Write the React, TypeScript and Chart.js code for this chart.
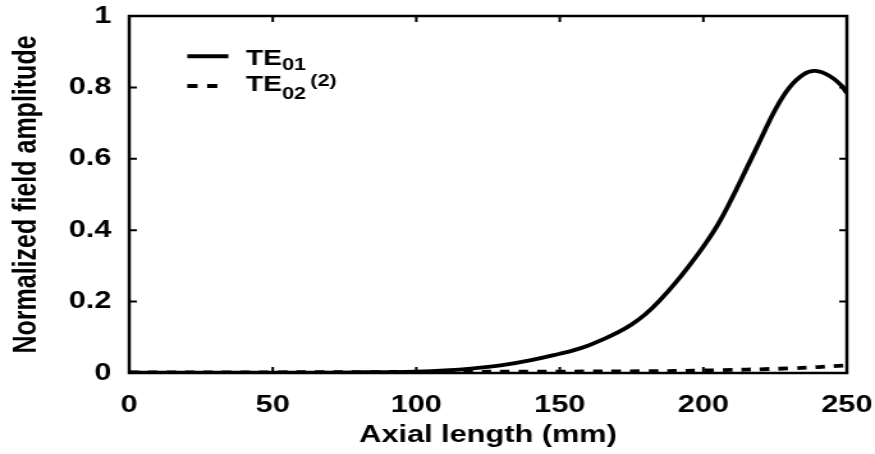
import { useEffect, useRef } from "react";
import { Chart, registerables } from "chart.js";

Chart.register(...registerables);

// Axial positions (mm) and normalized amplitude of the TE01 mode
const axialLength = [0, 50, 80, 100, 110, 120, 130, 140, 150, 155, 160, 165, 170, 175, 180, 185, 190, 195, 200, 205, 210, 215, 220, 225, 230, 235, 239, 244, 248, 250];
const te01Amplitude = [0.001, 0.001, 0.002, 0.004, 0.007, 0.013, 0.022, 0.036, 0.054, 0.064, 0.077, 0.094, 0.113, 0.136, 0.166, 0.205, 0.25, 0.3, 0.354, 0.415, 0.49, 0.572, 0.655, 0.737, 0.8, 0.837, 0.846, 0.832, 0.806, 0.784];

// Axial positions (mm) and normalized amplitude of the TE02 mode
const te02Length = [0, 50, 100, 150, 180, 200, 230, 250];
const te02Amplitude = [0.002, 0.002, 0.003, 0.004, 0.005, 0.007, 0.013, 0.021];

const xTicks = [0, 50, 100, 150, 200, 250];
const xTickLabels = ["0", "50", "100", "150", "200", "250"];
const yTicks = [0, 0.2, 0.4, 0.6, 0.8, 1];
const yTickLabels = ["0", "0.2", "0.4", "0.6", "0.8", "1"];

const xTitle = "Axial length (mm)";
const yTitle = "Normalized field amplitude";

// Legend entries: main text, subscript, superscript
const seriesMain = ["TE", "TE"];
const seriesSub = ["01", "02"];
const seriesSup = ["", "(2)"];

// The figure is drawn on a narrower canvas and widened by CSS
const DRAW_W = 684;
const DRAW_H = 454;
const SHOW_W = 875;

const FAMILY = "'Liberation Sans', Arial, Helvetica, sans-serif";

const pick = (vals: number[], labels: string[], v: number) => {
  const i = vals.findIndex((t) => Math.abs(t - v) < 1e-9);
  return i >= 0 ? labels[i] : "";
};

const framePlugin = {
  id: "frameAndLegend",
  afterDatasetsDraw(chart: any) {
    const { ctx, chartArea } = chart;
    const { left, right, top, bottom } = chartArea;
    const xs = chart.scales.x;
    const ys = chart.scales.y;
    const tickLen = 6;
    ctx.save();
    ctx.strokeStyle = "#000";
    ctx.setLineDash([]);

    // inward tick marks on all four sides
    ctx.lineWidth = 2;
    ctx.beginPath();
    xTicks.slice(1, -1).forEach((v) => {
      const px = xs.getPixelForValue(v);
      ctx.moveTo(px, bottom);
      ctx.lineTo(px, bottom - tickLen);
      ctx.moveTo(px, top);
      ctx.lineTo(px, top + tickLen);
    });
    yTicks.slice(1, -1).forEach((v) => {
      const py = ys.getPixelForValue(v);
      ctx.moveTo(left, py);
      ctx.lineTo(left + tickLen, py);
      ctx.moveTo(right, py);
      ctx.lineTo(right - tickLen, py);
    });
    ctx.stroke();

    // plot frame
    ctx.lineWidth = 2.5;
    ctx.strokeRect(left, top, right - left, bottom - top);

    // legend
    const sampleX0 = 146.4;
    const sampleX1 = [178.5, 170.5];
    const sampleY = [56.3, 86];
    const textX = 192.3;
    const baseY = [65, 91];
    const subY = [70, 99];
    const supY = [86, 86];
    const supX = 242.5;
    const dashes = [[], [8, 7.5]];
    ctx.lineWidth = 4;
    for (let i = 0; i < seriesMain.length; i++) {
      ctx.setLineDash(dashes[i]);
      ctx.beginPath();
      ctx.moveTo(sampleX0, sampleY[i]);
      ctx.lineTo(sampleX1[i], sampleY[i]);
      ctx.stroke();
      ctx.setLineDash([]);
      ctx.fillStyle = "#000";
      ctx.textBaseline = "alphabetic";
      ctx.textAlign = "left";
      ctx.font = `bold 22px ${FAMILY}`;
      ctx.fillText(seriesMain[i], textX, baseY[i]);
      const w = ctx.measureText(seriesMain[i]).width;
      ctx.font = `bold 17px ${FAMILY}`;
      ctx.fillText(seriesSub[i], textX + w, subY[i]);
      if (seriesSup[i]) ctx.fillText(seriesSup[i], supX, supY[i]);
    }
    ctx.restore();
  },
};

export default function App() {
  const canvasRef = useRef<HTMLCanvasElement | null>(null);

  useEffect(() => {
    document.body.style.margin = "0";
    const canvas = canvasRef.current;
    if (!canvas) return;

    const tickFont = { family: FAMILY, size: 24, weight: "bold" as const };

    const chart = new Chart(canvas, {
      type: "line",
      data: {
        datasets: [
          {
            label: "TE01",
            data: axialLength.map((x, i) => ({ x, y: te01Amplitude[i] })),
            borderColor: "#000",
            borderWidth: 3.8,
            pointRadius: 0,
            fill: false,
            tension: 0.4,
          },
          {
            label: "TE02(2)",
            data: te02Length.map((x, i) => ({ x, y: te02Amplitude[i] })),
            borderColor: "#000",
            borderWidth: 3.8,
            borderDash: [7.5, 7],
            pointRadius: 0,
            fill: false,
            tension: 0.4,
          },
        ],
      },
      options: {
        animation: false,
        responsive: false,
        devicePixelRatio: 1,
        layout: { padding: { left: 0, right: 22, top: 16, bottom: 0 } },
        plugins: { legend: { display: false }, tooltip: { enabled: false } },
        scales: {
          x: {
            type: "linear",
            min: 0,
            max: 250,
            afterBuildTicks: (s: any) => {
              s.ticks = xTicks.map((value) => ({ value }));
            },
            afterFit: (s: any) => {
              s.height = 81;
              s.paddingLeft = 0;
              s.paddingRight = 0;
            },
            ticks: {
              font: tickFont,
              color: "#000",
              padding: 18,
              maxRotation: 0,
              autoSkip: false,
              callback: (v: any) => pick(xTicks, xTickLabels, Number(v)),
            },
            grid: { display: false, drawTicks: false },
            border: { display: false },
            title: {
              display: true,
              text: xTitle,
              color: "#000",
              font: { family: FAMILY, size: 24, weight: "bold" },
              padding: { top: 0, bottom: 4 },
            },
          },
          y: {
            type: "linear",
            min: 0,
            max: 1,
            afterBuildTicks: (s: any) => {
              s.ticks = yTicks.map((value) => ({ value }));
            },
            afterFit: (s: any) => {
              s.width = 101;
              s.paddingTop = 0;
              s.paddingBottom = 0;
            },
            ticks: {
              font: tickFont,
              color: "#000",
              padding: 14,
              autoSkip: false,
              callback: (v: any) => pick(yTicks, yTickLabels, Number(v)),
            },
            grid: { display: false, drawTicks: false },
            border: { display: false },
            title: {
              display: true,
              text: yTitle,
              color: "#000",
              font: { family: FAMILY, size: 25, weight: "bold" },
              padding: { top: 6, bottom: 0 },
            },
          },
        },
      },
      plugins: [framePlugin],
    });

    return () => chart.destroy();
  }, []);

  return (
    <div style={{ width: SHOW_W, height: DRAW_H, background: "#fff" }}>
      <canvas
        ref={canvasRef}
        width={DRAW_W}
        height={DRAW_H}
        style={{ width: `${SHOW_W}px`, height: `${DRAW_H}px`, display: "block" }}
      />
    </div>
  );
}
